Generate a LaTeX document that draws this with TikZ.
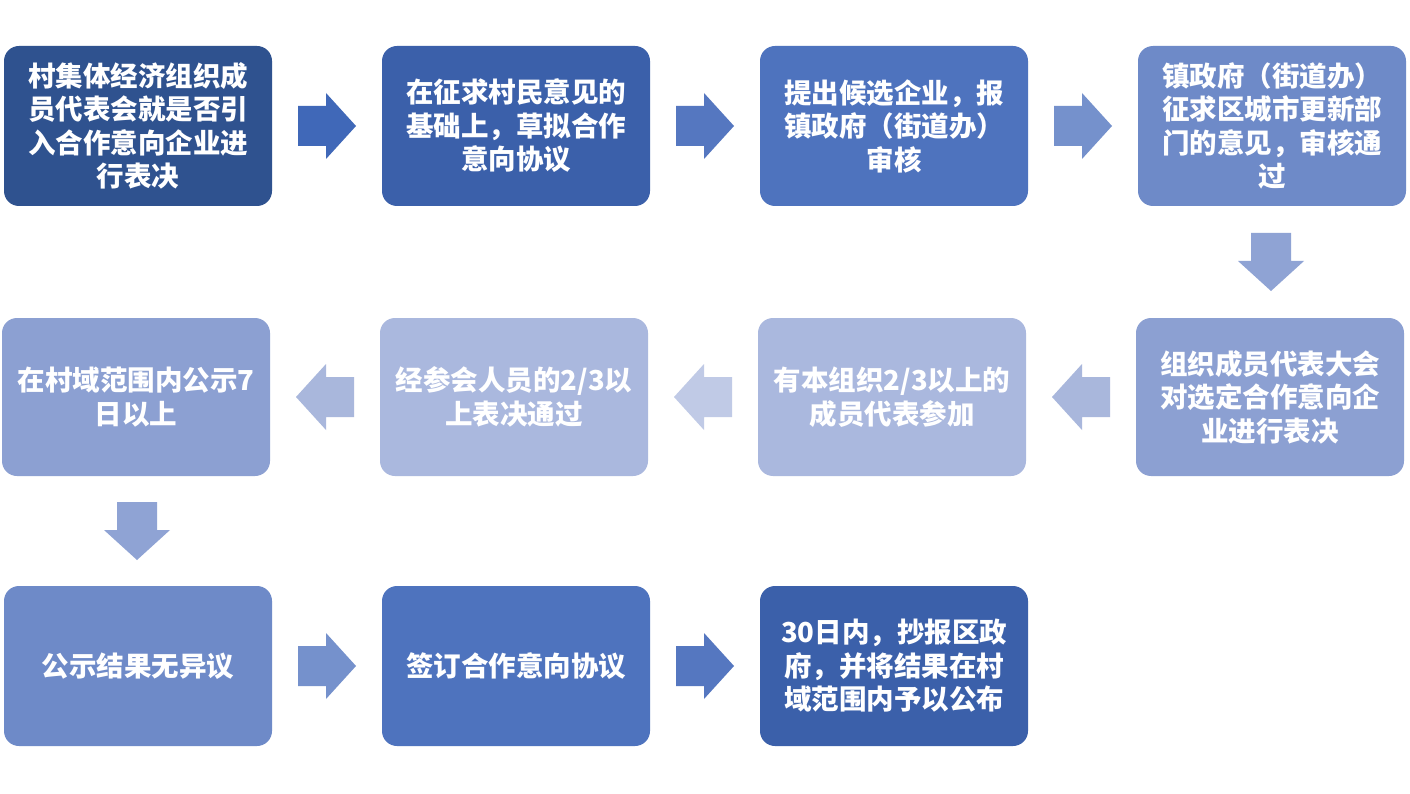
\documentclass[tikz,border=0pt]{standalone}
\usepackage{fontspec}
\newfontfamily\cjk{Noto Sans CJK SC}
\usetikzlibrary{calc}
\definecolor{cA}{RGB}{47,82,143}
\definecolor{cB}{RGB}{59,96,170}
\definecolor{cC}{RGB}{78,115,190}
\definecolor{cD}{RGB}{110,138,200}
\definecolor{cE}{RGB}{140,160,210}
\definecolor{cF}{RGB}{170,184,222}
\definecolor{aA}{RGB}{64,104,184}
\definecolor{aB}{RGB}{85,119,192}
\definecolor{aC}{RGB}{117,145,204}
\definecolor{aD}{RGB}{143,163,212}
\definecolor{aE}{RGB}{169,183,220}
\definecolor{aF}{RGB}{192,202,230}
\newcommand\blockarrow[3]{% position, angle, colour
  \fill[#3, shift={#1}, rotate=#2] (-29pt,-20pt) -- (-1pt,-20pt) -- (-1pt,-33pt) -- (29pt,0pt) -- (-1pt,33pt) -- (-1pt,20pt) -- (-29pt,20pt) -- cycle;}
\tikzset{
  box/.style={rounded corners=15pt, minimum width=268pt, minimum height=160pt, inner sep=0pt,
    align=center, text=white, font=\cjk\bfseries\fontsize{27.5}{33.5}\selectfont},
}
\begin{document}
\begin{tikzpicture}[x=1pt,y=-1pt]
\useasboundingbox[fill=white] (0,0) rectangle (1410,794);
% row 1
\node[box, fill=cA] (r1a) at (138,126) {村集体经济组织成\\员代表会就是否引\\入合作意向企业进\\行表决};
\node[box, fill=cB] (r1b) at (516,126) {在征求村民意见的\\基础上，草拟合作\\意向协议};
\node[box, fill=cC] (r1c) at (894,126) {提出候选企业，报\\镇政府（街道办）\\审核};
\node[box, fill=cD] (r1d) at (1272,126) {镇政府（街道办）\\征求区城市更新部\\门的意见，审核通\\过};
% row 2
\node[box, fill=cE, minimum height=158pt] (r2d) at (1270,397) {组织成员代表大会\\对选定合作意向企\\业进行表决};
\node[box, fill=cF, minimum height=158pt] (r2c) at (892,397) {有本组织2/3以上的\\成员代表参加};
\node[box, fill=cF, minimum height=158pt] (r2b) at (514,397) {经参会人员的2/3以\\上表决通过};
\node[box, fill=cE, minimum height=158pt] (r2a) at (136,397) {在村域范围内公示7\\日以上};
% row 3
\node[box, fill=cD] (r3a) at (138,666) {公示结果无异议};
\node[box, fill=cC] (r3b) at (516,666) {签订合作意向协议};
\node[box, fill=cB] (r3c) at (894,666) {30日内，抄报区政\\府，并将结果在村\\域范围内予以公布};
% arrows
\blockarrow{($(r1a.east)!0.5!(r1b.west)$)}{0}{aA}
\blockarrow{($(r1b.east)!0.5!(r1c.west)$)}{0}{aB}
\blockarrow{($(r1c.east)!0.5!(r1d.west)$)}{0}{aC}
\blockarrow{($(r1d.south)!0.5!(r2d.north)$)}{-90}{aD}
\blockarrow{($(r2d.west)!0.5!(r2c.east)$)}{180}{aE}
\blockarrow{($(r2c.west)!0.5!(r2b.east)$)}{180}{aF}
\blockarrow{($(r2b.west)!0.5!(r2a.east)$)}{180}{aE}
\blockarrow{($(r2a.south)!0.5!(r3a.north)$)}{-90}{aD}
\blockarrow{($(r3a.east)!0.5!(r3b.west)$)}{0}{aC}
\blockarrow{($(r3b.east)!0.5!(r3c.west)$)}{0}{aB}
\end{tikzpicture}
\end{document}
